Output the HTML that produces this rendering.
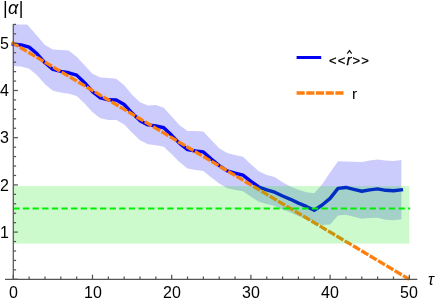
<!DOCTYPE html>
<html><head><meta charset="utf-8"><style>
html,body{margin:0;padding:0;background:#fff;}
body{width:436px;height:300px;position:relative;overflow:hidden;font-family:"Liberation Sans",sans-serif;color:#000;}
.l{position:absolute;white-space:nowrap;line-height:20px;will-change:transform;}
</style></head><body>
<svg width="436" height="300" viewBox="0 0 436 300" style="position:absolute;left:0;top:0"><rect x="0" y="0" width="436" height="300" fill="#fff"/><clipPath id="c"><rect x="0" y="24.42" width="436" height="300"/></clipPath><path d="M13.30,15.79 L21.22,16.97 L29.14,26.78 L37.06,35.79 L44.98,44.99 L52.90,49.54 L60.82,50.01 L68.74,50.48 L76.66,56.65 L84.58,65.18 L92.50,73.71 L100.42,77.50 L108.34,77.98 L116.26,78.69 L124.18,85.32 L132.10,94.80 L140.02,102.15 L147.94,105.47 L155.86,104.99 L163.78,107.84 L171.70,116.61 L179.62,125.14 L187.54,131.06 L195.46,131.06 L203.38,131.54 L211.30,140.07 L219.22,148.13 L227.14,153.10 L235.06,155.00 L242.98,156.66 L250.90,164.24 L258.82,171.35 L266.74,174.91 L274.66,177.04 L282.58,182.26 L290.50,186.52 L298.42,189.84 L306.34,192.21 L314.26,193.16 L322.18,184.29 L330.10,172.59 L338.02,161.16 L345.94,161.49 L353.86,161.87 L361.78,162.02 L369.70,160.45 L377.62,159.50 L385.54,160.45 L393.46,160.93 L401.38,159.98 L401.38,219.23 L393.46,220.18 L385.54,219.70 L377.62,217.65 L369.70,217.96 L361.78,218.75 L353.86,216.70 L345.94,214.65 L338.02,215.44 L330.10,224.44 L322.18,224.92 L314.26,223.02 L306.34,218.99 L298.42,216.03 L290.50,212.59 L282.58,209.59 L274.66,206.11 L266.74,204.06 L258.82,201.87 L250.90,196.83 L242.98,191.32 L235.06,190.08 L227.14,188.24 L219.22,183.56 L211.30,177.46 L203.38,170.88 L195.46,169.93 L187.54,168.51 L179.62,162.35 L171.70,154.29 L163.78,146.86 L155.86,145.13 L147.94,144.34 L140.02,140.23 L132.10,132.80 L124.18,124.43 L116.26,120.08 L108.34,120.00 L100.42,118.27 L92.50,112.26 L84.58,103.41 L76.66,95.99 L68.74,93.74 L60.82,92.43 L52.90,90.66 L44.98,84.14 L37.06,75.25 L29.14,68.73 L21.22,66.62 L13.30,66.03Z" fill="#0000f2" fill-opacity="0.2" clip-path="url(#c)"/><path d="M13.30,44.23 L21.22,44.94 L29.14,47.17 L37.06,53.80 L44.98,62.81 L52.90,69.44 L60.82,71.34 L68.74,72.76 L76.66,75.13 L84.58,82.72 L92.50,91.72 L100.42,97.88 L108.34,99.78 L116.26,100.02 L124.18,104.52 L132.10,113.05 L140.02,120.64 L147.94,124.90 L155.86,125.85 L163.78,127.75 L171.70,135.33 L179.62,143.39 L187.54,149.55 L195.46,150.97 L203.38,151.92 L211.30,159.03 L219.22,165.67 L227.14,170.88 L235.06,173.25 L242.98,175.15 L250.90,181.31 L258.82,187.00 L266.74,189.84 L274.66,192.21 L282.58,196.00 L290.50,199.32 L298.42,203.11 L306.34,206.43 L314.26,210.22 L322.18,205.01 L330.10,198.37 L338.02,188.42 L345.94,187.47 L353.86,189.37 L361.78,191.26 L369.70,189.84 L377.62,188.89 L385.54,190.31 L393.46,190.79 L401.38,189.84" fill="none" stroke="#0000f2" stroke-width="3.4" stroke-linejoin="round" stroke-linecap="square"/><line x1="11.60" y1="42.30" x2="409.30" y2="279.30" stroke="#ff7f0e" stroke-width="3.3" stroke-dasharray="8.05,1.645"/><rect x="13.30" y="186.1" width="396.00" height="57.50" fill="#00e600" fill-opacity="0.2"/><line x1="13.30" y1="208.50" x2="410.2" y2="208.50" stroke="#00f000" stroke-width="2" stroke-dasharray="6.3,3.33"/><line x1="5" y1="279.3" x2="417.3" y2="279.3" stroke="#555" stroke-width="1.25"/><line x1="13.3" y1="279.3" x2="13.3" y2="23.92" stroke="#555" stroke-width="1.25"/><line x1="13.30" y1="279.3" x2="13.30" y2="274.7" stroke="#555" stroke-width="1.25"/><line x1="29.14" y1="279.3" x2="29.14" y2="276.5" stroke="#555" stroke-width="1.25"/><line x1="44.98" y1="279.3" x2="44.98" y2="276.5" stroke="#555" stroke-width="1.25"/><line x1="60.82" y1="279.3" x2="60.82" y2="276.5" stroke="#555" stroke-width="1.25"/><line x1="76.66" y1="279.3" x2="76.66" y2="276.5" stroke="#555" stroke-width="1.25"/><line x1="92.50" y1="279.3" x2="92.50" y2="274.7" stroke="#555" stroke-width="1.25"/><line x1="108.34" y1="279.3" x2="108.34" y2="276.5" stroke="#555" stroke-width="1.25"/><line x1="124.18" y1="279.3" x2="124.18" y2="276.5" stroke="#555" stroke-width="1.25"/><line x1="140.02" y1="279.3" x2="140.02" y2="276.5" stroke="#555" stroke-width="1.25"/><line x1="155.86" y1="279.3" x2="155.86" y2="276.5" stroke="#555" stroke-width="1.25"/><line x1="171.70" y1="279.3" x2="171.70" y2="274.7" stroke="#555" stroke-width="1.25"/><line x1="187.54" y1="279.3" x2="187.54" y2="276.5" stroke="#555" stroke-width="1.25"/><line x1="203.38" y1="279.3" x2="203.38" y2="276.5" stroke="#555" stroke-width="1.25"/><line x1="219.22" y1="279.3" x2="219.22" y2="276.5" stroke="#555" stroke-width="1.25"/><line x1="235.06" y1="279.3" x2="235.06" y2="276.5" stroke="#555" stroke-width="1.25"/><line x1="250.90" y1="279.3" x2="250.90" y2="274.7" stroke="#555" stroke-width="1.25"/><line x1="266.74" y1="279.3" x2="266.74" y2="276.5" stroke="#555" stroke-width="1.25"/><line x1="282.58" y1="279.3" x2="282.58" y2="276.5" stroke="#555" stroke-width="1.25"/><line x1="298.42" y1="279.3" x2="298.42" y2="276.5" stroke="#555" stroke-width="1.25"/><line x1="314.26" y1="279.3" x2="314.26" y2="276.5" stroke="#555" stroke-width="1.25"/><line x1="330.10" y1="279.3" x2="330.10" y2="274.7" stroke="#555" stroke-width="1.25"/><line x1="345.94" y1="279.3" x2="345.94" y2="276.5" stroke="#555" stroke-width="1.25"/><line x1="361.78" y1="279.3" x2="361.78" y2="276.5" stroke="#555" stroke-width="1.25"/><line x1="377.62" y1="279.3" x2="377.62" y2="276.5" stroke="#555" stroke-width="1.25"/><line x1="393.46" y1="279.3" x2="393.46" y2="276.5" stroke="#555" stroke-width="1.25"/><line x1="409.30" y1="279.3" x2="409.30" y2="274.7" stroke="#555" stroke-width="1.25"/><line x1="13.3" y1="279.30" x2="17.9" y2="279.30" stroke="#555" stroke-width="1.25"/><line x1="13.3" y1="269.86" x2="16.1" y2="269.86" stroke="#555" stroke-width="1.25"/><line x1="13.3" y1="260.42" x2="16.1" y2="260.42" stroke="#555" stroke-width="1.25"/><line x1="13.3" y1="250.98" x2="16.1" y2="250.98" stroke="#555" stroke-width="1.25"/><line x1="13.3" y1="241.54" x2="16.1" y2="241.54" stroke="#555" stroke-width="1.25"/><line x1="13.3" y1="232.10" x2="17.9" y2="232.10" stroke="#555" stroke-width="1.25"/><line x1="13.3" y1="222.66" x2="16.1" y2="222.66" stroke="#555" stroke-width="1.25"/><line x1="13.3" y1="213.22" x2="16.1" y2="213.22" stroke="#555" stroke-width="1.25"/><line x1="13.3" y1="203.78" x2="16.1" y2="203.78" stroke="#555" stroke-width="1.25"/><line x1="13.3" y1="194.34" x2="16.1" y2="194.34" stroke="#555" stroke-width="1.25"/><line x1="13.3" y1="184.90" x2="17.9" y2="184.90" stroke="#555" stroke-width="1.25"/><line x1="13.3" y1="175.46" x2="16.1" y2="175.46" stroke="#555" stroke-width="1.25"/><line x1="13.3" y1="166.02" x2="16.1" y2="166.02" stroke="#555" stroke-width="1.25"/><line x1="13.3" y1="156.58" x2="16.1" y2="156.58" stroke="#555" stroke-width="1.25"/><line x1="13.3" y1="147.14" x2="16.1" y2="147.14" stroke="#555" stroke-width="1.25"/><line x1="13.3" y1="137.70" x2="17.9" y2="137.70" stroke="#555" stroke-width="1.25"/><line x1="13.3" y1="128.26" x2="16.1" y2="128.26" stroke="#555" stroke-width="1.25"/><line x1="13.3" y1="118.82" x2="16.1" y2="118.82" stroke="#555" stroke-width="1.25"/><line x1="13.3" y1="109.38" x2="16.1" y2="109.38" stroke="#555" stroke-width="1.25"/><line x1="13.3" y1="99.94" x2="16.1" y2="99.94" stroke="#555" stroke-width="1.25"/><line x1="13.3" y1="90.50" x2="17.9" y2="90.50" stroke="#555" stroke-width="1.25"/><line x1="13.3" y1="81.06" x2="16.1" y2="81.06" stroke="#555" stroke-width="1.25"/><line x1="13.3" y1="71.62" x2="16.1" y2="71.62" stroke="#555" stroke-width="1.25"/><line x1="13.3" y1="62.18" x2="16.1" y2="62.18" stroke="#555" stroke-width="1.25"/><line x1="13.3" y1="52.74" x2="16.1" y2="52.74" stroke="#555" stroke-width="1.25"/><line x1="13.3" y1="43.30" x2="17.9" y2="43.30" stroke="#555" stroke-width="1.25"/><line x1="13.3" y1="33.86" x2="16.1" y2="33.86" stroke="#555" stroke-width="1.25"/><line x1="13.3" y1="24.42" x2="16.1" y2="24.42" stroke="#555" stroke-width="1.25"/><line x1="296.6" y1="57.5" x2="321.2" y2="57.5" stroke="#0000f2" stroke-width="3"/><line x1="296.6" y1="93" x2="343.5" y2="93" stroke="#ff7f0e" stroke-width="3.4" stroke-dasharray="8.1,1.6"/><polyline points="347.3,53.7 349.5,50.6 351.7,53.7" fill="none" stroke="#111" stroke-width="1.15"/></svg>
<div class="l" style="left:-0.20px;top:222.70px;font-size:16px;">1</div><div class="l" style="left:-0.20px;top:175.50px;font-size:16px;">2</div><div class="l" style="left:-0.20px;top:128.30px;font-size:16px;">3</div><div class="l" style="left:-0.20px;top:81.10px;font-size:16px;">4</div><div class="l" style="left:-0.20px;top:33.90px;font-size:16px;">5</div><div class="l" style="left:8.85px;top:283.00px;font-size:16px;">0</div><div class="l" style="left:83.60px;top:283.00px;font-size:16px;">10</div><div class="l" style="left:162.80px;top:283.00px;font-size:16px;">20</div><div class="l" style="left:242.00px;top:283.00px;font-size:16px;">30</div><div class="l" style="left:321.20px;top:283.00px;font-size:16px;">40</div><div class="l" style="left:400.40px;top:283.00px;font-size:16px;">50</div><div class="l" style="left:2.50px;top:-2.20px;font-size:18px;letter-spacing:0.4px;">|<i>α</i>|</div><div class="l" style="left:427.80px;top:269.50px;font-size:16px;"><i>τ</i></div><div class="l" style="left:328.60px;top:49.50px;font-size:13px;letter-spacing:1.1px;-webkit-text-stroke:0.25px #000;">&lt;&lt;<i style="font-size:15px">r</i>&gt;&gt;</div><div class="l" style="left:351.50px;top:83.50px;font-size:15.5px;">r</div>
</body></html>
